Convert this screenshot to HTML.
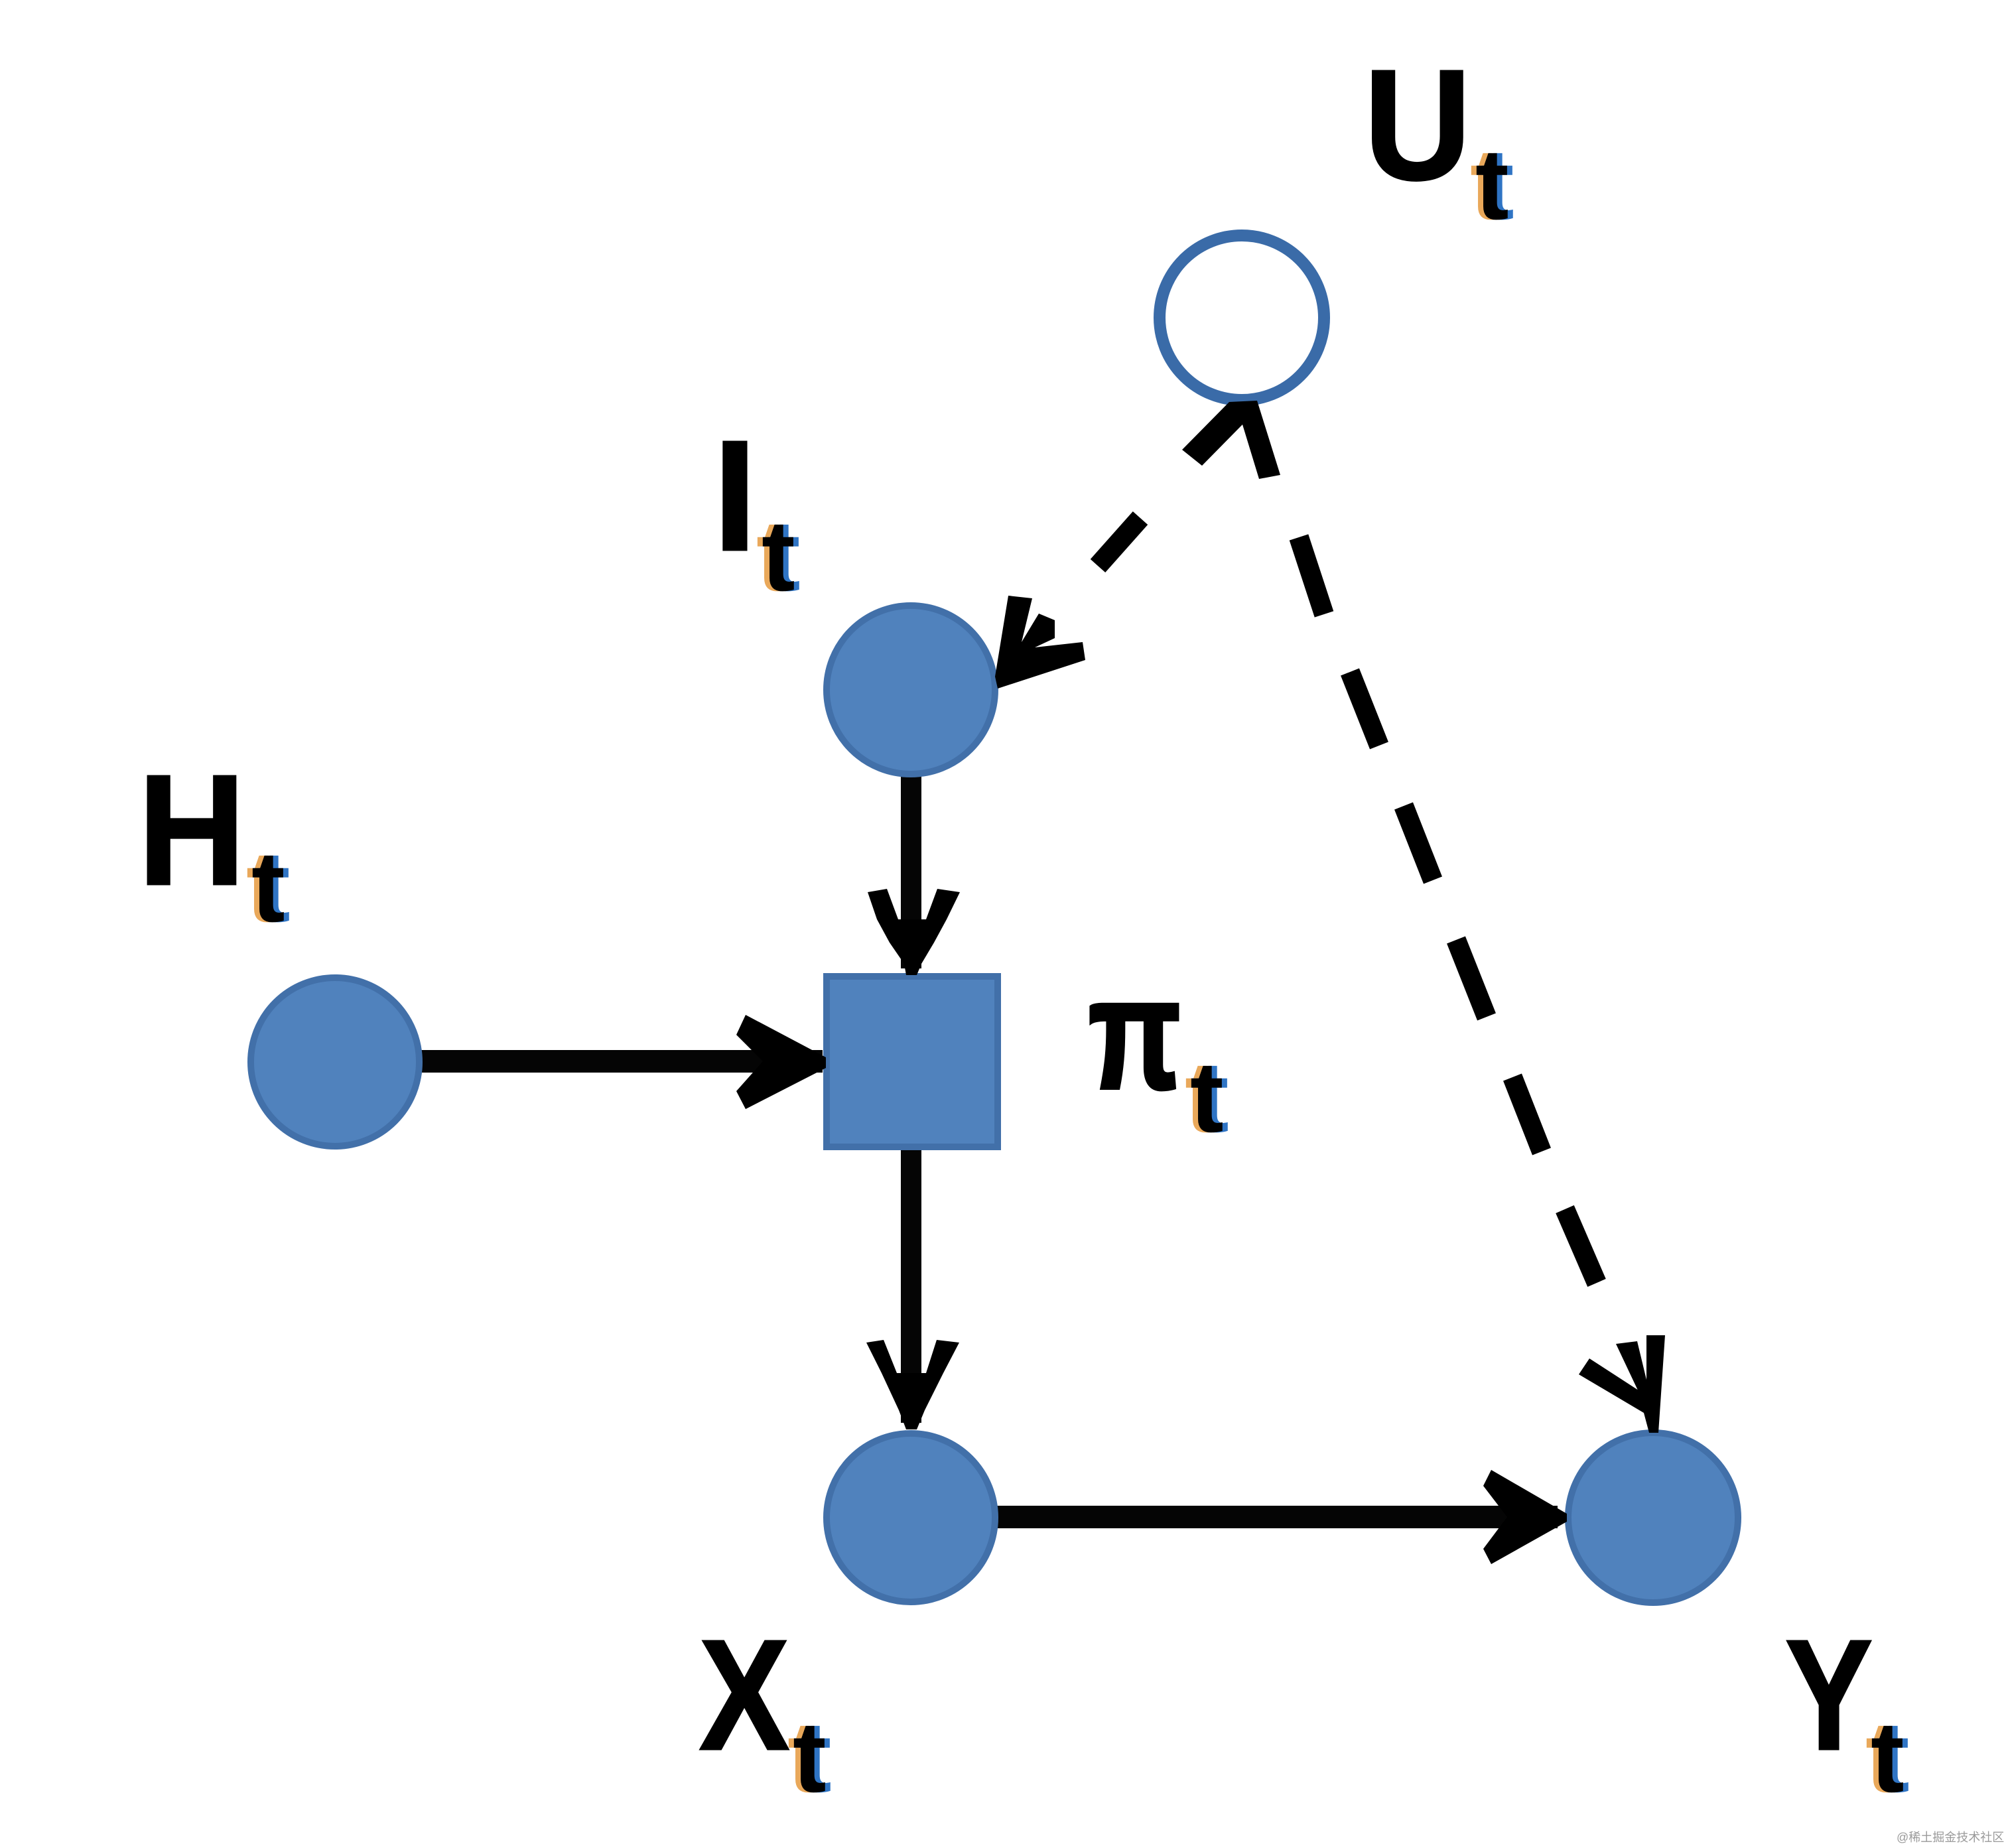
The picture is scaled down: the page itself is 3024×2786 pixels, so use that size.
<!DOCTYPE html>
<html>
<head>
<meta charset="utf-8">
<style>
html,body{margin:0;padding:0;background:#fff;width:3024px;height:2786px;overflow:hidden}
svg{display:block}
text{font-family:"Liberation Sans","Noto Sans CJK SC",sans-serif;font-weight:700}
.L{font-size:237px;fill:#000;stroke:#000;stroke-width:3px}
.t{font-size:152px}
.o{fill:#e9a85a}.b{fill:#2f74c4}.k{fill:#000}
</style>
</head>
<body>
<svg width="3024" height="2786" viewBox="0 0 3024 2786" xmlns="http://www.w3.org/2000/svg">
<rect width="3024" height="2786" fill="#fff"/>

<!-- solid shafts -->
<g fill="#050505">
<rect x="1358" y="1160" width="31" height="300"/>
<rect x="1358" y="1725" width="31" height="420"/>
<rect x="630" y="1583" width="610" height="34"/>
<rect x="1498" y="2270" width="850" height="34"/>
</g>

<!-- nodes -->
<g fill="#5082bd" stroke="#4270a9" stroke-width="10">
<circle cx="1373" cy="1040" r="127"/>
<circle cx="505" cy="1601" r="127"/>
<circle cx="1373" cy="2288" r="127"/>
<circle cx="2492" cy="2288" r="128"/>
<rect x="1246" y="1472" width="258" height="257"/>
</g>
<circle cx="1872" cy="479" r="124" fill="#fff" stroke="#3a6ba8" stroke-width="18"/>

<!-- solid arrowheads -->
<g fill="#000">
<polygon points="1308,1345 1337,1340 1354,1386 1396,1386 1413,1340 1447,1345 1427,1386 1408,1421 1389,1453 1382,1470 1366,1470 1363,1453 1341,1421 1322,1386"/>
<polygon points="1306,2024 1332,2020 1352,2070 1396,2070 1412,2020 1446,2024 1422,2070 1394,2126 1382,2155 1366,2155 1355,2126 1329,2070"/>
<polygon points="1110,1560 1124,1530 1245,1594 1245,1610 1124,1672 1110,1645 1150,1600"/>
<polygon points="2236,2240 2248,2216 2362,2282 2362,2294 2248,2358 2236,2335 2272,2287"/>
</g>

<!-- dashed connectors -->
<g stroke="#000" stroke-width="30" fill="none">
<line x1="1719" y1="781" x2="1655" y2="853"/>
<line x1="1958" y1="810" x2="1996" y2="926"/>
<line x1="2035" y1="1013" x2="2079" y2="1124"/>
<line x1="2116" y1="1215" x2="2160" y2="1327"/>
<line x1="2195" y1="1417" x2="2241" y2="1533"/>
<line x1="2280" y1="1624" x2="2324" y2="1736"/>
<line x1="2359" y1="1823" x2="2407" y2="1934"/>
</g>

<!-- dashed arrowheads -->
<g fill="#000">
<polygon points="1853,606 1895,604 1930,716 1898,722 1873,640 1812,702 1782,678"/>
<polygon points="1520,898 1556,902 1540,968 1566,925 1590,935 1590,962 1560,976 1632,968 1636,995 1504,1038 1500,1020"/>
<polygon points="2482,2013 2510,2013 2500,2160 2486,2160 2478,2130 2380,2072 2396,2048 2470,2096 2470,2098 2436,2026 2468,2022 2482,2080"/>
</g>

<!-- labels -->
<text class="L" x="2056" y="270" textLength="162" lengthAdjust="spacingAndGlyphs">U</text>
<text class="L" x="1075" y="829">I</text>
<text class="L" x="208" y="1333" textLength="162" lengthAdjust="spacingAndGlyphs">H</text>
<text class="L" x="1641" y="1640" textLength="139" lengthAdjust="spacingAndGlyphs" style="stroke-width:6px">π</text>
<text class="L" x="1054" y="2637" textLength="136" lengthAdjust="spacingAndGlyphs">X</text>
<text class="L" x="2691" y="2637" textLength="132" lengthAdjust="spacingAndGlyphs">Y</text>

<!-- subscripts with colour fringes -->
<g>
<text class="t o" x="2216" y="330">t</text><text class="t b" x="2232" y="330">t</text><text class="t k" x="2224" y="330">t</text>
<text class="t o" x="1140" y="890">t</text><text class="t b" x="1156" y="890">t</text><text class="t k" x="1148" y="890">t</text>
<text class="t o" x="371" y="1389">t</text><text class="t b" x="387" y="1389">t</text><text class="t k" x="379" y="1389">t</text>
<text class="t o" x="1786" y="1706">t</text><text class="t b" x="1802" y="1706">t</text><text class="t k" x="1794" y="1706">t</text>
<text class="t o" x="1187" y="2701">t</text><text class="t b" x="1203" y="2701">t</text><text class="t k" x="1195" y="2701">t</text>
<text class="t o" x="2812" y="2701">t</text><text class="t b" x="2828" y="2701">t</text><text class="t k" x="2820" y="2701">t</text>
</g>

<!-- watermark -->
<text x="2859" y="2776" font-size="18" style="font-weight:400" fill="#9a9a9a">@稀土掘金技术社区</text>
</svg>
</body>
</html>
